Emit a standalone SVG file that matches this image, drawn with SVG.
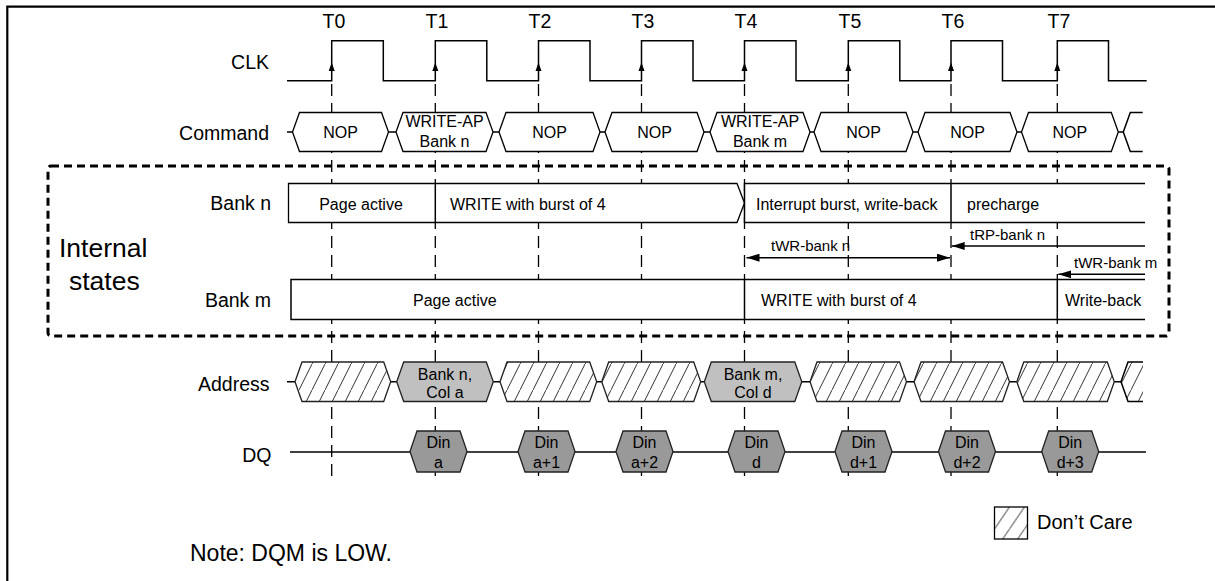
<svg xmlns="http://www.w3.org/2000/svg" width="1215" height="581" viewBox="0 0 1215 581">
<style>
text{font-family:"Liberation Sans",Arial,sans-serif;fill:#000}
.lbl{font-size:19.5px;text-anchor:end}
.tl{font-size:19.5px;text-anchor:middle}
.hx{font-size:16px;text-anchor:middle}
.bt{font-size:16px}
.tm{font-size:15px}
.big{font-size:26.5px}
.ln{fill:none;stroke:#000;stroke-width:1.5}
.dash{fill:none;stroke:#000;stroke-width:1.3;stroke-dasharray:12 7}
.cmd{fill:#fff;stroke:#000;stroke-width:1.3}
.adr{fill:url(#hatch);stroke:#222;stroke-width:1.3}
.gry{fill:#c0c0c0;stroke:#222;stroke-width:1.3}
.din{fill:#999;stroke:#222;stroke-width:1.3}
.row{fill:#fff;stroke:#000;stroke-width:1.3}
.arr{fill:none;stroke:#000;stroke-width:1.5}
</style>
<defs>
<pattern id="hatch" patternUnits="userSpaceOnUse" width="13" height="26">
<rect width="13" height="26" fill="#fff"/>
<path d="M-1,28 L14,-2" stroke="#333" stroke-width="1"/>
</pattern>
<pattern id="hatch2" patternUnits="userSpaceOnUse" width="15" height="22" x="994.5" y="507">
<rect width="15" height="22" fill="#fff"/>
<path d="M-1,23.5 L16,-1.5" stroke="#333" stroke-width="1"/>
</pattern>
<marker id="ah" viewBox="0 0 13 8" refX="13" refY="4" markerWidth="13" markerHeight="8" orient="auto-start-reverse" markerUnits="userSpaceOnUse">
<path d="M0,0 L13,4 L0,8 Z" fill="#000"/>
</marker>
</defs>
<rect width="1215" height="581" fill="#fff"/>
<path d="M7.3,581 V6.7 H1215" fill="none" stroke="#000" stroke-width="2.2"/>

<g id="connectors">
<g id="clock-guides">
<path class="dash" d="M331.7,84 V480 M435.3,84 V480 M538.5,84 V480 M641.5,84 V480 M744.5,84 V480 M848.3,84 V480 M951,84 V480 M1057.3,84 V480"/>
</g>
<g id="tick-labels">
<text class="tl" x="334" y="28">T0</text>
<text class="tl" x="437" y="28">T1</text>
<text class="tl" x="540" y="28">T2</text>
<text class="tl" x="643" y="28">T3</text>
<text class="tl" x="746" y="28">T4</text>
<text class="tl" x="850" y="28">T5</text>
<text class="tl" x="953" y="28">T6</text>
<text class="tl" x="1059" y="28">T7</text>
</g>
</g>

<g id="clk">
<text class="lbl" x="269" y="68.5">CLK</text>
<path class="ln" d="M287,80.7 H331.7 V40.7 H383.3 V80.7 H435.3 V40.7 H486.8 V80.7 H538.5 V40.7 H590 V80.7 H641.5 V40.7 H693 V80.7 H744.5 V40.7 H796 V80.7 H848.3 V40.7 H899.8 V80.7 H951 V40.7 H1002.5 V80.7 H1057.3 V40.7 H1108.5 V80.7 H1146.7"/>
<path fill="#000" d="M331.7,62.5 L328.7,71 H334.7 Z M435.3,62.5 L432.3,71 H438.3 Z M538.5,62.5 L535.5,71 H541.5 Z M641.5,62.5 L638.5,71 H644.5 Z M744.5,62.5 L741.5,71 H747.5 Z M848.3,62.5 L845.3,71 H851.3 Z M951,62.5 L948,71 H954 Z M1057.3,62.5 L1054.3,71 H1060.3 Z"/>
</g>

<g id="command">
<text class="lbl" x="269" y="139.5">Command</text>
<path class="ln" stroke-width="1.3" d="M287,132 H292.5 M388.5,132 H396 M493,132 H499 M600,132 H605 M704,132 H710 M810,132 H814 M913,132 H918 M1017,132 H1021.5 M1118.3,132 H1123.3"/>
<path class="cmd" d="M292.5,132 L299.5,112.5 H381.5 L388.5,132 L381.5,151.5 H299.5 Z"/>
<path class="cmd" d="M396,132 L403,112.5 H486 L493,132 L486,151.5 H403 Z"/>
<path class="cmd" d="M499,132 L506,112.5 H593 L600,132 L593,151.5 H506 Z"/>
<path class="cmd" d="M605,132 L612,112.5 H697 L704,132 L697,151.5 H612 Z"/>
<path class="cmd" d="M710,132 L717,112.5 H803 L810,132 L803,151.5 H717 Z"/>
<path class="cmd" d="M814,132 L821,112.5 H906 L913,132 L906,151.5 H821 Z"/>
<path class="cmd" d="M918,132 L925,112.5 H1010 L1017,132 L1010,151.5 H925 Z"/>
<path class="cmd" d="M1021.5,132 L1028.5,112.5 H1111.3 L1118.3,132 L1111.3,151.5 H1028.5 Z"/>
<path fill="#fff" d="M1142.7,112.5 H1130.3 L1123.3,132 L1130.3,151.5 H1142.7 Z"/>
<path class="ln" stroke-width="1.3" d="M1142.7,112.5 H1130.3 L1123.3,132 L1130.3,151.5 H1142.7"/>
<text class="hx" x="340.5" y="137.7">NOP</text>
<text class="hx" x="444.5" y="126.5">WRITE-AP</text>
<text class="hx" x="444.5" y="146.5">Bank n</text>
<text class="hx" x="549.5" y="137.7">NOP</text>
<text class="hx" x="654.5" y="137.7">NOP</text>
<text class="hx" x="760" y="126.5">WRITE-AP</text>
<text class="hx" x="760" y="146.5">Bank m</text>
<text class="hx" x="863.5" y="137.7">NOP</text>
<text class="hx" x="967.5" y="137.7">NOP</text>
<text class="hx" x="1069.9" y="137.7">NOP</text>
</g>

<g id="bank-n">
<text class="lbl" x="271" y="210">Bank n</text>
<path class="row" d="M288.5,183.5 H737 L744.5,203 L737,222.5 H288.5 Z"/>
<path class="ln" stroke-width="1.3" d="M435.3,183.5 V222.5"/>
<rect x="744.5" y="183.5" width="400.5" height="39" fill="#fff"/>
<path class="ln" stroke-width="1.3" d="M1145,183.5 H744.5 V222.5 H1145 M951,183.5 V222.5"/>
<text class="bt" x="361" y="209.5" text-anchor="middle">Page active</text>
<text class="bt" x="450" y="209.5">WRITE with burst of 4</text>
<text class="bt" x="756" y="209.5">Interrupt burst, write-back</text>
<text class="bt" x="967" y="209.5">precharge</text>
</g>

<g id="timings">
<path class="arr" d="M746.5,257.7 H950" marker-start="url(#ah)" marker-end="url(#ah)"/>
<text class="tm" x="771" y="250.7">tWR-bank n</text>
<path class="arr" d="M1145,246 H951.7" marker-end="url(#ah)"/>
<text class="tm" x="970" y="240">tRP-bank n</text>
<path class="arr" d="M1145,274.3 H1058.3" marker-end="url(#ah)"/>
<text class="tm" x="1074" y="267.5">tWR-bank m</text>
</g>

<g id="bank-m">
<text class="lbl" x="271" y="306.5">Bank m</text>
<rect x="291" y="279.5" width="854" height="40" fill="#fff"/>
<path class="ln" stroke-width="1.3" d="M1145,279.5 H291 V319.5 H1145 M744.5,279.5 V319.5 M1057.3,279.5 V319.5"/>
<text class="bt" x="413" y="305.5">Page active</text>
<text class="bt" x="761" y="305.5">WRITE with burst of 4</text>
<text class="bt" x="1065" y="305.5">Write-back</text>
</g>

<g id="internal-states">
<rect x="48" y="166" width="1121" height="170" rx="3" fill="none" stroke="#000" stroke-width="3" stroke-dasharray="8 5"/>
<text class="big" x="59" y="257">Internal</text>
<text class="big" x="69" y="290">states</text>
</g>

<g id="address">
<text class="lbl" x="269.5" y="391">Address</text>
<path class="ln" stroke-width="1.3" d="M287,381.7 H295 M390.7,381.7 H396.7 M493.3,381.7 H500 M596.7,381.7 H601.7 M700.7,381.7 H704.3 M801.8,381.7 H810 M906.5,381.7 H914 M1009.5,381.7 H1016.8 M1114.3,381.7 H1121"/>
<path class="adr" d="M295,381.7 L302,362 H383.7 L390.7,381.7 L383.7,401.5 H302 Z"/>
<path class="gry" d="M396.7,381.7 L403.7,362 H486.3 L493.3,381.7 L486.3,401.5 H403.7 Z"/>
<path class="adr" d="M500,381.7 L507,362 H589.7 L596.7,381.7 L589.7,401.5 H507 Z"/>
<path class="adr" d="M601.7,381.7 L608.7,362 H693.7 L700.7,381.7 L693.7,401.5 H608.7 Z"/>
<path class="gry" d="M704.3,381.7 L711.3,362 H794.8 L801.8,381.7 L794.8,401.5 H711.3 Z"/>
<path class="adr" d="M810,381.7 L817,362 H899.5 L906.5,381.7 L899.5,401.5 H817 Z"/>
<path class="adr" d="M914,381.7 L921,362 H1002.5 L1009.5,381.7 L1002.5,401.5 H921 Z"/>
<path class="adr" d="M1016.8,381.7 L1023.8,362 H1107.3 L1114.3,381.7 L1107.3,401.5 H1023.8 Z"/>
<path fill="url(#hatch)" d="M1143,362 H1128 L1121,381.7 L1128,401.5 H1143 Z"/>
<path class="ln" stroke="#222" stroke-width="1.3" d="M1143,362 H1128 L1121,381.7 L1128,401.5 H1143"/>
<text class="hx" x="445" y="379.8">Bank n,</text>
<text class="hx" x="445" y="398">Col a</text>
<text class="hx" x="753" y="379.8">Bank m,</text>
<text class="hx" x="753" y="398">Col d</text>
</g>

<g id="dq">
<text class="lbl" x="271.5" y="461.5">DQ</text>
<path class="ln" stroke-width="1.3" d="M290,452 H1146"/>
<path class="din" d="M410,451.5 L417,431 H460 L467,451.5 L460,472 H417 Z"/>
<path class="din" d="M518,451.5 L525,431 H568 L575,451.5 L568,472 H525 Z"/>
<path class="din" d="M616,451.5 L623,431 H666 L673,451.5 L666,472 H623 Z"/>
<path class="din" d="M728,451.5 L735,431 H778 L785,451.5 L778,472 H735 Z"/>
<path class="din" d="M835,451.5 L842,431 H885 L892,451.5 L885,472 H842 Z"/>
<path class="din" d="M938.5,451.5 L945.5,431 H988.5 L995.5,451.5 L988.5,472 H945.5 Z"/>
<path class="din" d="M1041.7,451.5 L1048.7,431 H1091.7 L1098.7,451.5 L1091.7,472 H1048.7 Z"/>
<text class="hx" x="438.5" y="448.2">Din</text><text class="hx" x="438.5" y="467.5">a</text>
<text class="hx" x="546.5" y="448.2">Din</text><text class="hx" x="546.5" y="467.5">a+1</text>
<text class="hx" x="644.5" y="448.2">Din</text><text class="hx" x="644.5" y="467.5">a+2</text>
<text class="hx" x="756.5" y="448.2">Din</text><text class="hx" x="756.5" y="467.5">d</text>
<text class="hx" x="863.5" y="448.2">Din</text><text class="hx" x="863.5" y="467.5">d+1</text>
<text class="hx" x="967" y="448.2">Din</text><text class="hx" x="967" y="467.5">d+2</text>
<text class="hx" x="1070.2" y="448.2">Din</text><text class="hx" x="1070.2" y="467.5">d+3</text>
</g>

<g id="legend">
<rect x="994.5" y="507" width="33" height="32" fill="url(#hatch2)" stroke="#000" stroke-width="1.3"/>
<text x="1037" y="529" style="font-size:20px">Don’t Care</text>
</g>

<g id="note">
<text x="190" y="561" style="font-size:23px">Note: DQM is LOW.</text>
</g>
</svg>
